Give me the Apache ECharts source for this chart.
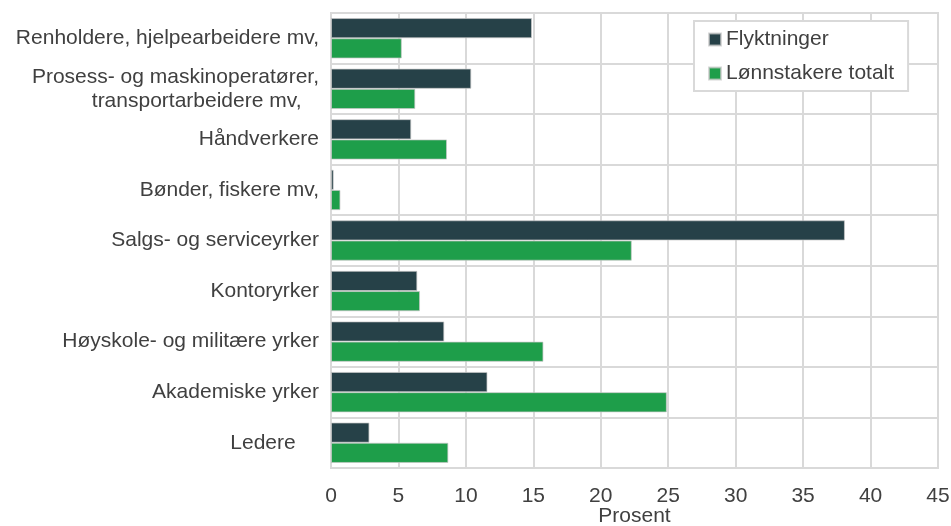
<!DOCTYPE html>
<html>
<head>
<meta charset="utf-8">
<script src="https://cdn.jsdelivr.net/npm/echarts@6/dist/echarts.min.js"></script>
<style>
  html, body { margin: 0; padding: 0; background: #fff; }
  #chart { width: 951px; height: 526px; }
</style>
</head>
<body>
<div id="chart"></div>
<script>
// categories top to bottom
const categories = [
  'Renholdere, hjelpearbeidere mv,',
  'Prosess- og maskinoperatører,\ntransportarbeidere mv,   ',
  'Håndverkere',
  'Bønder, fiskere mv,',
  'Salgs- og serviceyrker',
  'Kontoryrker',
  'Høyskole- og militære yrker',
  'Akademiske yrker',
  'Ledere    '
]
const flyktninger = [14.9, 10.4, 5.95, 0.2, 38.1, 6.4, 8.4, 11.6, 2.85]
const lonnstakere = [5.25, 6.25, 8.6, 0.7, 22.3, 6.6, 15.75, 24.9, 8.7]

const gridColor = '#d9d9d9'
const textColor = '#404040'
const font = 'Liberation Sans, Arial, sans-serif'
const fs = 21

const chart = echarts.init(document.getElementById('chart'))
chart.setOption({
  animation: false,
  textStyle: { fontFamily: font },
  grid: {
    left: 331, right: 13, top: 13, bottom: 58,
    outerBoundsMode: 'none',
    containLabel: false,
    show: true, borderColor: gridColor, borderWidth: 2
  },
  legend: {
    orient: 'vertical',
    left: 694, top: 21,
    padding: [8, 14, 7, 14],
    itemGap: 13,
    itemWidth: 12, itemHeight: 12,
    borderColor: gridColor, borderWidth: 2,
    backgroundColor: '#fff',
    icon: 'rect',
    textStyle: { fontSize: fs, color: textColor, fontFamily: font },
    data: ['Flyktninger', 'Lønnstakere totalt']
  },
  xAxis: {
    type: 'value',
    min: 0, max: 45, interval: 5,
    name: 'Prosent',
    nameLocation: 'middle',
    nameGap: 38,
    nameMoveOverlap: false,
    nameTextStyle: { fontSize: fs, color: textColor, fontFamily: font },
    axisLine: { show: false },
    axisTick: { show: false },
    axisLabel: { fontSize: fs, color: textColor, margin: 18, fontFamily: font },
    splitLine: { lineStyle: { color: gridColor, width: 2 } }
  },
  yAxis: {
    type: 'category',
    inverse: true,
    data: categories,
    axisLine: { lineStyle: { color: gridColor, width: 2 } },
    axisTick: { show: false },
    axisLabel: { fontSize: fs, color: textColor, margin: 12, lineHeight: 24, fontFamily: font },
    splitLine: { show: true, lineStyle: { color: gridColor, width: 2 } }
  },
  series: [
    {
      name: 'Flyktninger',
      type: 'bar',
      data: flyktninger,
      barGap: 0,
      barCategoryGap: '20%',
      itemStyle: { color: '#264148', borderColor: 'rgba(200,200,200,0.7)', borderWidth: 1 }
    },
    {
      name: 'Lønnstakere totalt',
      type: 'bar',
      data: lonnstakere,
      barGap: 0,
      barCategoryGap: '20%',
      itemStyle: { color: '#1e9e4a', borderColor: 'rgba(200,200,200,0.7)', borderWidth: 1 }
    }
  ]
})
</script>
</body>
</html>
